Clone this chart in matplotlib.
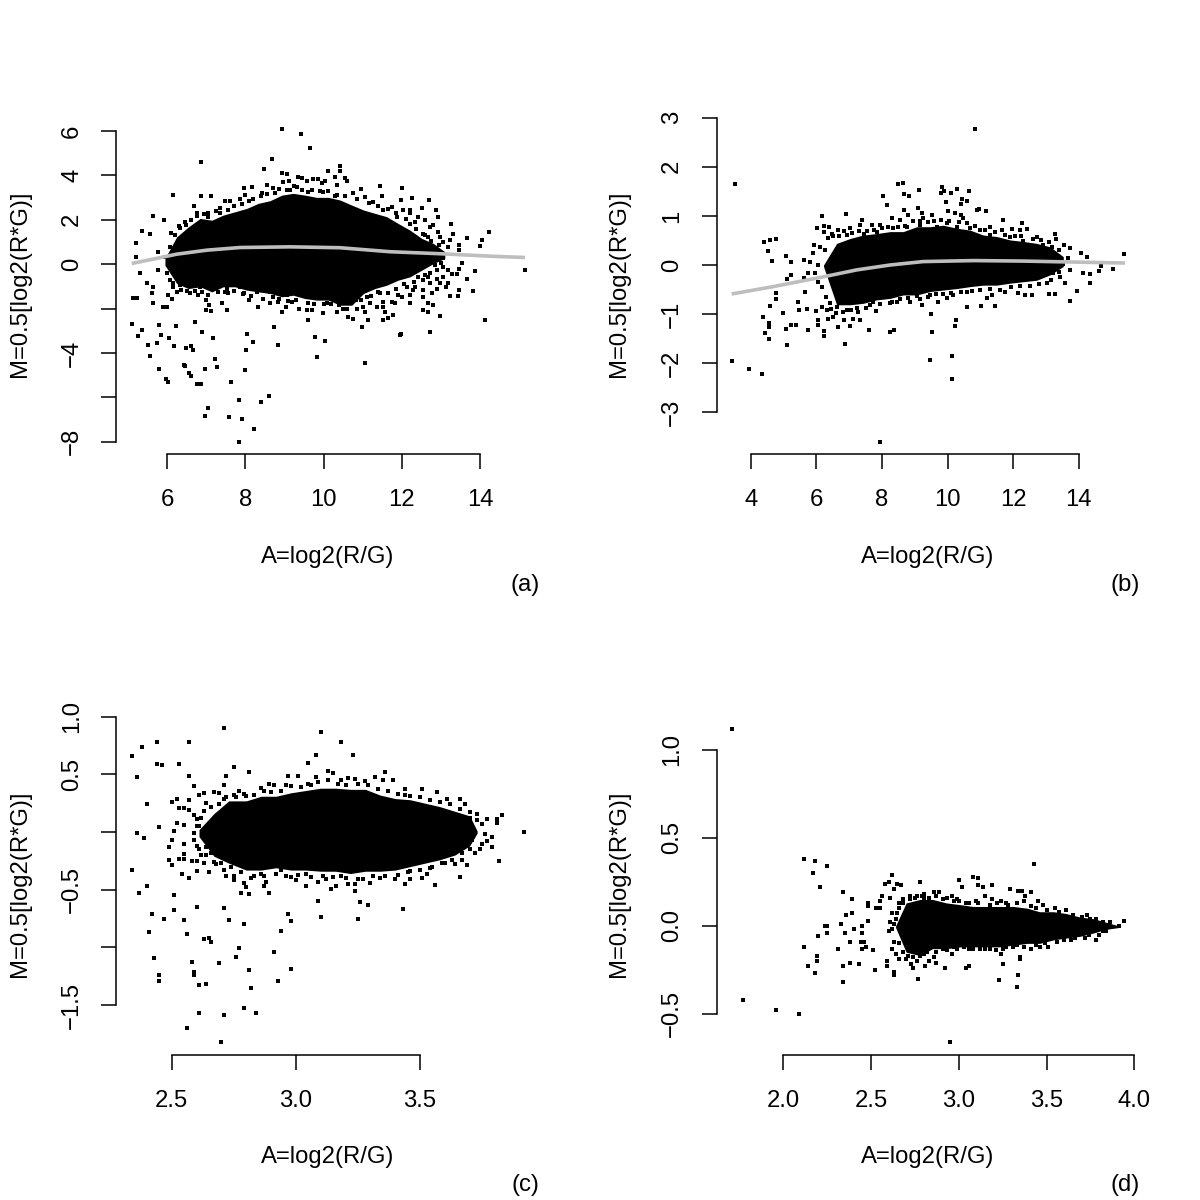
import numpy as np
import matplotlib
matplotlib.use("Agg")
import matplotlib.pyplot as plt

plt.rcParams['font.family'] = ['Liberation Sans', 'DejaVu Sans']

W = 1200
XLAB = "A=log2(R/G)"
YLAB = "M=0.5[log2(R*G)]"
GRAY = "#BEBEBE"
FS = 17.2

# ---------- panel (a) ----------
a_xticks = [6, 8, 10, 12, 14]
a_xlabels = ["6", "8", "10", "12", "14"]
a_yticks = [6, 4, 2, 0, -2, -4, -6, -8]
a_ylabels = ["6", "4", "2", "0", "", "\u22124", "", "\u22128"]
a_core_A = [5.94,6.24,6.54,6.84,7.14,7.43,7.73,8.03,8.33,8.63,8.93,9.22,9.52,9.82,10.12,10.42,10.72,11.02,11.31,11.61,11.91,12.21,12.51,12.81,13.10]
a_core_hi = [.26,1.23,1.68,2.06,1.98,2.21,2.36,2.51,2.74,2.86,3.11,3.19,3.11,3.01,3.01,2.89,2.66,2.44,2.29,2.14,1.83,1.53,1.16,.93,.56]
a_core_lo = [-.05,-.87,-1.10,-1.02,-1.25,-1.02,-1.02,-1.17,-1.25,-1.32,-1.47,-1.40,-1.55,-1.62,-1.62,-1.85,-1.85,-1.32,-1.10,-.95,-.72,-.57,-.27,.03,.26]
a_fit_A = [5.09, 5.73, 6.24, 7.01, 7.86, 9.14, 10.42, 11.70, 12.98, 14.26, 15.15]
a_fit_M = [.03, .26, .45, .63, .75, .78, .74, .56, .47, .36, .30]
a_points = [
(8.94,6.09),(9.41,5.86),(9.64,5.22),(8.67,4.72),(6.87,4.59),(8.47,4.27),(10.42,4.44),(6.14,3.11),(6.85,3.07),(7.13,3.08),
(5.63,2.17),(5.91,1.97),(5.36,1.50),(5.57,1.34),(5.21,.95),(5.21,.33),(5.30,-.41),(5.47,-.87),(5.13,-1.53),(5.23,-1.53),
(5.10,-2.71),(5.34,-2.95),(5.25,-3.25),(5.50,-3.64),(5.73,-3.55),(5.57,-4.15),(5.80,-2.75),(5.85,-3.19),(6.05,-3.34),(6.18,-3.71),
(6.22,-2.78),(6.49,-3.77),(6.60,-3.70),(6.66,-3.85),(6.70,-2.62),(6.89,-3.07),(7.18,-3.34),(5.80,-4.74),(5.97,-5.16),(6.03,-5.31),
(6.44,-4.54),(6.46,-4.60),(6.55,-4.89),(6.60,-5.02),(6.75,-5.41),(6.87,-5.40),(6.96,-4.72),(7.22,-4.29),(7.26,-4.63),(7.64,-5.32),
(8.00,-4.78),(8.02,-3.88),(8.05,-3.14),(8.18,-3.53),(8.72,-2.83),(8.82,-3.64),(9.77,-3.29),(10.03,-3.46),(9.84,-4.17),(11.06,-4.47),
(10.99,-2.81),(11.95,-3.20),(11.98,-3.16),(12.71,-3.05),(14.14,-2.53),(12.98,-2.33),(15.14,-.27),(14.23,1.43),(14.04,1.11),(13.99,.81),
(13.68,1.16),(13.87,-.30),(13.68,-.66),(13.83,-1.22),(7.04,-6.48),(6.96,-6.86),(7.57,-6.90),(7.84,-6.14),(7.91,-6.96),(8.40,-6.23),
(8.60,-5.95),(8.23,-7.43),(7.83,-8.03),
(8.93,4.09),(9.05,4.05),(8.95,3.71),(9.11,3.76),(9.35,3.91),(9.45,3.89),(9.31,3.49),(9.58,3.76),(9.72,3.85),(9.85,3.82),
(9.95,3.67),(10.04,3.76),(10.12,4.18),(10.29,3.94),(10.43,4.21),(10.55,3.86),(10.59,3.76),(10.33,3.56),(8.54,3.56),(7.97,3.43),
(8.16,3.47),(10.96,3.37),(11.44,3.52),(12.00,3.44),(11.50,3.05),(11.97,2.89),(12.26,2.96),(12.70,2.87),(12.87,2.42),(12.51,2.51),
(12.93,2.11),(13.25,1.83),(13.32,1.34),(13.22,1.11),(13.45,.86),(13.45,.63),(13.53,.06),(13.45,-.24),(13.40,-.45),(13.29,-.45),
(13.06,.26),(6.68,2.62),(7.48,2.83),(7.60,2.86),(7.86,2.92),(7.99,3.11),(8.41,3.19),(8.71,3.41),(9.14,3.34),(9.61,3.26),
(9.99,3.26),(10.29,3.07),(10.76,3.19),(11.06,3.04),(11.27,2.81),(11.74,2.59),(12.21,2.44),(12.42,2.14),(12.72,1.68),(12.98,1.23),
(12.87,.63),(12.55,1.38),(12.21,1.83),(11.87,2.14),(11.53,2.44),(7.35,2.51),(7.05,2.14),(6.75,2.17),(6.49,1.76),(6.32,1.61),
(6.20,1.31),(6.07,.78),(5.77,.56),(5.94,.33),(5.77,-.27),
(5.98,-.42),(6.07,-.72),(5.64,-1.02),(5.62,-1.32),(5.64,-1.77),(5.88,-1.92),(6.00,-1.92),(6.03,-1.40),(6.11,-1.55),(6.24,-1.25),
(6.58,-1.32),(6.79,-1.40),(6.99,-1.62),(6.99,-2.08),(7.13,-2.11),(7.07,-1.85),(7.39,-1.74),(7.54,-2.08),(7.48,-1.25),(7.94,-1.35),
(8.09,-1.62),(8.33,-1.92),(8.63,-1.77),(8.84,-1.70),(8.93,-2.15),(9.04,-1.95),(9.18,-1.70),(9.38,-2.00),(9.57,-2.08),(9.69,-2.08),
(9.61,-2.53),(9.99,-2.18),(10.08,-1.77),(10.33,-2.15),(10.38,-1.85),(10.59,-2.00),(10.63,-2.38),(10.76,-2.45),(11.01,-1.92),(11.06,-2.15),
(11.14,-2.50),(11.53,-2.53),(11.64,-2.41),(11.78,-2.30),(11.57,-2.15),(11.82,-1.77),(12.21,-1.77),(12.53,-2.05),(12.68,-2.15),(12.81,-1.85),
(12.68,-1.77),(12.55,-1.17),(13.23,-1.44),(13.43,-1.43),(13.45,-1.17),(13.12,-1.02),(12.89,-1.10),(12.72,-.87),(12.42,-.57),(12.12,-1.02),
(11.91,-1.40),(11.44,-1.32),(11.10,-1.47),(10.84,-1.62),(10.50,-1.55),(10.16,-1.47),(9.82,-1.40),(9.39,-1.32),(9.05,-1.40),(8.63,-1.25),
(8.29,-1.25),(7.86,-1.02),(7.52,-1.10),(7.18,-1.02),(6.84,-1.02),(6.49,-.95),(6.32,-.95),(6.15,-1.02),
(12.21,2.29),(12.04,2.44),(12.34,1.91),(12.59,1.98),(12.81,1.76),(12.93,1.46),(12.68,1.23),(13.06,1.01),(13.19,.78),(13.06,-.12),
(13.19,-.27),(12.89,-.27),(12.72,-.42),(13.06,-.57),(12.89,-.65),(12.55,-.72),(12.68,-.57),(12.34,-1.02),(12.29,-1.17),(12.21,-1.40),
(12.0,-1.47),(11.74,-1.70),(11.53,-1.70),(11.36,-1.92),(11.19,-1.77),(11.53,-1.92),(12.55,-1.47),(12.76,-1.32),(12.98,-.87),(13.19,-.87),
(6.1,1.4),(6.3,1.7),(6.45,1.9),(6.6,2.0),(6.75,2.3),(6.95,2.25),(7.05,2.3),(7.25,2.4),(7.35,2.3),(7.55,2.45),
(7.7,2.6),(7.9,2.7),(8.1,2.85),(8.2,2.95),(8.4,3.05),(8.55,3.15),(8.75,3.2),(8.85,3.4),(9.05,3.35),(9.25,3.5),
(9.45,3.35),(9.7,3.35),(9.9,3.3),(10.1,3.3),(10.35,3.1),(10.55,3.05),(10.85,2.95),(11.15,2.75),(11.4,2.6),(11.65,2.5),
(11.85,2.3),(12.1,2.05),(12.35,1.6),(12.6,1.3),(12.75,1.05),(12.95,.85),
(6.15,-.85),(6.35,-1.15),(6.5,-1.2),(6.7,-1.2),(6.9,-1.25),(7.05,-1.4),(7.3,-1.25),(7.55,-1.3),(7.7,-1.2),(7.95,-1.3),
(8.15,-1.45),(8.45,-1.55),(8.7,-1.5),(8.85,-1.55),(9.1,-1.65),(9.3,-1.6),(9.6,-1.75),(9.75,-1.8),(10.0,-1.8),(10.2,-1.8),
(10.5,-2.0),(10.85,-2.0),(10.95,-1.6),(11.2,-1.45),(11.4,-1.25),(11.65,-1.3),(11.85,-1.1),(12.05,-.9),(12.3,-.8),(12.6,-.5),
(12.85,-.05),(13.0,.05),
]

# ---------- panel (b) ----------
b_xticks = [4, 6, 8, 10, 12, 14]
b_xlabels = ["4", "6", "8", "10", "12", "14"]
b_yticks = [3, 2, 1, 0, -1, -2, -3]
b_ylabels = ["3", "2", "1", "0", "\u22121", "\u22122", "\u22123"]
b_core_A = [6.22,6.62,7.03,7.43,7.84,8.25,8.65,9.06,9.47,9.87,10.28,10.69,11.09,11.50,11.91,12.31,12.72,13.13,13.53]
b_core_hi = [0,.44,.54,.61,.64,.68,.68,.78,.78,.81,.75,.71,.61,.58,.51,.48,.44,.37,.17]
b_core_lo = [-.03,-.81,-.81,-.78,-.71,-.68,-.61,-.61,-.54,-.51,-.48,-.44,-.41,-.41,-.37,-.34,-.31,-.20,-.03]
b_fit_A = [3.42, 4.69, 6.22, 7.23, 8.25, 9.26, 10.79, 12.31, 13.84, 15.41]
b_fit_M = [-.59, -.44, -.24, -.10, 0, .07, .09, .08, .06, .04]
b_points = [
(10.85,2.77),(3.52,1.65),(8.48,1.64),(8.65,1.66),(8.02,1.41),(8.16,1.23),(8.68,1.44),(8.84,1.41),(9.12,1.53),(9.82,1.58),
(9.79,1.47),(9.90,1.51),(10.11,1.47),(10.28,1.55),(10.67,1.51),(9.95,1.29),(10.43,1.34),(10.40,1.24),(10.58,1.31),(10.91,1.13),
(10.97,1.15),(11.18,1.09),(10.00,1.09),(10.23,1.05),(10.40,1.02),(10.48,.95),(8.68,1.11),(9.10,1.17),(6.18,1.00),(6.90,1.03),
(4.40,.47),(4.58,.51),(4.78,.52),(4.54,.29),(4.66,.09),(5.07,.18),(5.24,.07),(15.39,.22),(15.04,-.09),(14.67,-.02),
(14.62,-.12),(14.35,-.37),(13.94,-.53),(13.74,-.73),(14.35,-.18),(14.12,-.17),(14.24,.17),(14.06,.25),(5.12,-.29),(5.24,-.21),
(4.76,-.58),(4.77,-.70),(4.59,-.84),(4.36,-1.05),(4.56,-1.19),(4.57,-1.27),(4.43,-1.38),(4.55,-1.50),(4.99,-.98),(5.08,-1.30),
(5.22,-1.22),(5.39,-1.23),(5.76,-1.32),(5.11,-1.63),(3.44,-1.95),(3.95,-2.12),(4.33,-2.21),(7.95,-3.61),(6.89,-1.60),(6.24,-1.34),
(6.24,-1.44),(6.04,-1.12),(6.04,-1.23),(7.62,-1.32),(8.26,-1.36),(8.38,-1.32),(9.49,-.99),(9.53,-1.36),(10.25,-1.13),(10.24,-1.24),
(9.48,-1.93),(10.15,-1.85),(10.13,-2.33),(10.60,-.85),(11.03,-.84),(11.45,-.84),
(6.01,.75),(6.22,.80),(6.40,.78),(6.22,.67),(5.93,.41),(6.11,.37),(6.27,.31),(5.91,.24),(5.61,.10),(5.81,.07),
(6.06,0),(5.76,-.17),(5.96,-.17),(5.61,-.27),(6.06,-.34),(6.16,-.44),(5.66,-.54),(5.45,-.75),(5.73,-.90),(5.47,-.92),
(5.99,-.94),(6.16,-.85),(6.32,-.92),(6.37,-1.09),(6.52,-1.05),(6.67,-1.26),(6.83,-1.12),(7.03,-1.24),(7.33,-1.13),(7.13,-1.09),
(7.28,-.95),(6.93,-.92),(6.62,-.85),(6.42,-.78),(7.81,-.93),(7.74,-.75),(8.25,-.77),(8.47,-.75),(8.86,-.76),(9.21,-.81),
(9.72,-.75),(9.06,-.64),(9.47,-.61),(9.98,-.68),(10.18,-.61),(10.59,-.54),(11.20,-.68),(11.35,-.61),(11.75,-.56),(12.16,-.58),
(12.36,-.61),(12.57,-.62),(13.08,-.60),(13.28,-.60),(13.02,-.37),(13.58,-.37),(13.43,-.24),(13.23,-.17),(13.74,-.10),(13.53,.03),
(13.68,.14),(13.55,.41),(13.74,.34),(13.28,.63),(13.31,.52),(13.18,.37),(12.72,.58),(12.41,.73),(12.26,.86),(11.96,.73),
(12.21,.71),(11.70,.92),(11.65,.71),(11.30,.77),(10.99,.71),(10.69,.75),(10.28,.78),(9.98,.85),(9.52,1.02),(9.26,.95),
(9.21,1.05),(8.81,1.02),(8.55,.92),(8.30,.95),(7.94,.81),(7.69,.81),(7.38,.92),(7.33,.81),(7.03,.75),(6.67,.71),
(6.47,.64),(6.93,.61),(7.44,.64),(7.84,.68),(8.35,.75),(8.76,.78),(9.16,.81),(9.67,.78),(10.48,.68),(11.30,.61),
(11.91,.58),(12.31,.48),(12.92,.41),
(6.35,.55),(6.5,.6),(6.7,.6),(6.85,.7),(7.1,.65),(7.3,.7),(7.55,.7),(7.75,.72),(8.0,.75),(8.2,.78),
(8.5,.78),(8.7,.8),(8.95,.9),(9.15,.9),(9.4,.88),(9.6,.9),(9.8,.92),(10.05,.9),(10.35,.88),(10.6,.85),
(10.85,.8),(11.15,.72),(11.45,.68),(11.75,.62),(12.05,.6),(12.25,.6),(12.6,.52),(12.85,.5),(13.1,.47),(13.4,.3),
(6.3,-.65),(6.45,-.9),(6.6,-.98),(6.8,-.95),(7.05,-.92),(7.25,-.88),(7.5,-.88),(7.65,-.82),(7.95,-.8),(8.3,-.75),
(8.55,-.7),(8.8,-.68),(9.15,-.7),(9.4,-.65),(9.65,-.6),(9.85,-.6),(10.1,-.58),(10.4,-.55),(10.75,-.52),(11.0,-.5),
(11.3,-.48),(11.6,-.5),(11.95,-.45),(12.2,-.42),(12.5,-.42),(12.8,-.38),(13.15,-.3),(13.4,-.15),
]

# ---------- panel (c) ----------
c_xticks = [2.5, 3.0, 3.5]
c_xlabels = ["2.5", "3.0", "3.5"]
c_yticks = [1.0, .5, 0, -.5, -1.0, -1.5]
c_ylabels = ["1.0", "0.5", "", "\u22120.5", "", "\u22121.5"]
c_core_A = [2.61,2.67,2.73,2.80,2.86,2.92,2.98,3.04,3.10,3.16,3.22,3.28,3.34,3.40,3.46,3.52,3.58,3.64,3.70,3.73]
c_core_hi = [.02,.16,.27,.27,.31,.31,.34,.36,.38,.38,.37,.37,.32,.29,.28,.25,.22,.18,.14,.01]
c_core_lo = [-.04,-.21,-.27,-.33,-.33,-.31,-.33,-.33,-.34,-.34,-.36,-.34,-.34,-.33,-.30,-.27,-.24,-.20,-.12,-.01]
c_points = [
(2.71,.90),(3.10,.87),(2.34,.66),(2.38,.74),(2.44,.78),(2.57,.78),(3.18,.78),(3.08,.67),(3.23,.67),(3.05,.60),
(2.44,.59),(2.46,.58),(2.53,.59),(2.75,.56),(2.81,.52),(2.36,.48),(2.57,.49),(2.72,.49),(2.59,.40),(2.71,.41),
(2.40,.24),(2.45,.04),(2.36,-.01),(2.39,-.05),(2.34,-.33),(2.37,-.53),(2.40,-.47),(2.51,-.55),(2.42,-.71),(2.51,-.68),
(2.47,-.75),(2.55,-.76),(2.60,-.65),(2.71,-.66),(2.73,-.76),(2.79,-.80),(2.41,-.87),(2.56,-.88),(2.63,-.93),(2.65,-.92),
(2.66,-.95),(2.77,-1.01),(2.76,-1.08),(2.91,-1.04),(2.94,-.86),(2.97,-.71),(2.98,-.77),(3.09,-.60),(3.10,-.74),(3.26,-.61),
(3.29,-.63),(3.25,-.75),(3.43,-.67),(3.56,-.46),(3.66,-.39),(3.82,-.25),(3.92,0),(3.83,.15),(3.81,.11),(3.81,.08),
(3.77,.11),(3.79,-.04),(3.79,-.13),(3.77,-.08),(2.43,-1.09),(2.45,-1.24),(2.45,-1.29),(2.58,-1.13),(2.59,-1.21),(2.59,-1.24),
(2.61,-1.33),(2.64,-1.32),(2.69,-1.14),(2.81,-1.20),(2.82,-1.35),(2.93,-1.29),(2.98,-1.19),(2.61,-1.57),(2.71,-1.59),(2.79,-1.53),
(2.84,-1.57),(2.56,-1.70),(2.70,-1.82),
(2.50,.26),(2.52,.29),(2.53,.21),(2.55,.21),(2.57,.28),(2.57,.19),(2.59,.15),(2.60,.11),(2.61,.32),(2.63,.34),
(2.67,.35),(2.69,.34),(2.64,.25),(2.71,.29),(2.75,.32),(2.52,.08),(2.55,.06),(2.51,.01),(2.59,-.01),(2.61,.05),
(2.50,-.07),(2.49,-.13),(2.55,-.10),(2.59,-.07),(2.61,-.15),(2.53,-.23),(2.49,-.24),(2.50,-.29),(2.55,-.19),(2.55,-.23),
(2.58,-.25),(2.60,-.25),(2.63,-.27),(2.64,-.20),(2.54,-.36),(2.57,-.40),(2.60,-.34),(2.65,-.35),(2.68,-.28),(2.71,-.33),
(2.75,-.38),(2.72,-.38),(2.75,-.42),(2.79,-.44),(2.80,-.48),(2.78,-.53),(2.81,-.54),(2.82,-.40),(2.87,-.47),(2.89,-.53),
(2.86,-.36),(2.88,-.43),(2.94,-.33),(2.98,-.39),(3.00,-.42),(3.04,-.47),(3.04,-.36),(3.09,-.43),(3.12,-.41),(3.14,-.49),
(3.16,-.47),(3.18,-.38),(3.21,-.45),(3.24,-.51),(3.24,-.45),(3.27,-.41),(3.30,-.44),(3.34,-.40),(3.40,-.41),(3.44,-.45),
(3.46,-.41),(3.51,-.40),(3.46,-.34),(3.53,-.36),(3.55,-.30),(3.60,-.27),(3.64,-.28),(3.67,-.24),(3.69,-.29),(3.72,-.18),
(3.74,-.15),(3.75,-.10),(3.71,-.07),(3.76,-.02),(3.75,.07),(3.73,.16),(3.68,.24),(3.70,.12),(3.66,.29),(3.61,.29),
(3.57,.35),(3.54,.22),(3.51,.37),(3.46,.31),(3.44,.37),(3.39,.45),(3.36,.52),(3.35,.45),(3.32,.48),(3.28,.44),
(3.24,.46),(3.21,.47),(3.18,.45),(3.15,.51),(3.13,.53),(3.08,.48),(3.06,.41),(3.01,.49),(2.97,.49),(2.96,.41),
(2.91,.41),(2.89,.42),(2.86,.38),(2.80,.31),(2.77,.36),
(2.63,.18),(2.66,.22),(2.69,.24),(2.72,.3),(2.76,.3),(2.79,.33),(2.83,.32),(2.87,.36),(2.9,.35),(2.94,.36),
(2.98,.4),(3.02,.39),(3.05,.42),(3.09,.43),(3.13,.45),(3.17,.42),(3.2,.41),(3.25,.42),(3.29,.41),(3.33,.37),
(3.37,.36),(3.41,.33),(3.44,.32),(3.5,.3),(3.54,.28),(3.58,.26),(3.62,.24),(3.66,.2),(3.7,.17),(3.73,.1),
(2.62,.12),(2.6,.05),(2.63,-.03),(2.6,-.12),(2.64,-.13),(2.66,-.18),(2.62,-.2),(2.67,.08),(2.65,.0),
(2.67,-.26),(2.7,-.27),(2.74,-.3),(2.78,-.35),(2.83,-.38),(2.87,-.38),(2.92,-.36),(2.96,-.38),(3.01,-.37),(3.06,-.39),
(3.11,-.38),(3.15,-.39),(3.2,-.4),(3.25,-.41),(3.31,-.38),(3.36,-.38),(3.41,-.37),(3.45,-.35),(3.5,-.33),(3.54,-.31),
(3.59,-.27),(3.63,-.24),(3.67,-.18),(3.7,-.15),
]

# ---------- panel (d) ----------
d_xticks = [2.0, 2.5, 3.0, 3.5, 4.0]
d_xlabels = ["2.0", "2.5", "3.0", "3.5", "4.0"]
d_yticks = [1.0, .5, 0, -.5]
d_ylabels = ["1.0", "0.5", "0.0", "\u22120.5"]
d_core_A = [2.64,2.70,2.78,2.85,2.93,3.01,3.08,3.16,3.23,3.31,3.39,3.46,3.54,3.61,3.69,3.77,3.84,3.91]
d_core_hi = [0,.13,.15,.15,.13,.12,.11,.11,.11,.11,.10,.08,.08,.07,.05,.04,.02,0]
d_core_lo = [-.01,-.15,-.17,-.13,-.13,-.12,-.12,-.12,-.12,-.11,-.10,-.10,-.08,-.07,-.06,-.04,-.02,-.01]
d_points = [
(1.71,1.12),(2.12,.38),(2.18,.37),(2.25,.34),(2.17,.30),(2.21,.22),(2.34,.19),(2.39,.15),(3.43,.35),(2.62,.29),
(2.58,.24),(2.60,.25),(2.63,.21),(2.65,.24),(2.67,.23),(2.78,.25),(3.00,.26),(3.02,.22),(3.08,.28),(3.11,.27),
(3.11,.23),(3.14,.22),(3.19,.23),(3.29,.21),(3.34,.20),(3.36,.20),(3.41,.19),(2.48,.13),(2.48,.11),(2.55,.14),
(2.56,.17),(2.61,.16),(2.36,.06),(2.39,.07),(2.53,.10),(2.55,.10),(2.33,.01),(2.24,0),(2.25,0),(2.25,-.04),
(2.40,-.02),(2.45,0),(2.48,.03),(2.20,-.06),(2.35,-.04),(2.45,-.04),(2.12,-.12),(2.31,-.13),(2.38,-.09),(2.44,-.09),
(2.46,-.09),(2.47,-.12),(2.45,-.13),(2.51,-.14),(2.19,-.17),(2.19,-.20),(2.14,-.23),(2.18,-.27),(2.34,-.23),(2.38,-.21),
(2.43,-.22),(2.34,-.32),(2.52,-.25),(2.59,-.20),(2.59,-.23),(2.63,-.26),(2.63,-.28),(2.77,-.30),(2.73,-.22),(2.74,-.24),
(2.81,-.23),(2.87,-.21),(2.92,-.24),(3.04,-.24),(3.06,-.23),(3.24,-.16),(3.25,-.22),(3.23,-.31),(3.34,-.28),(3.33,-.35),
(3.35,-.18),(3.35,-.19),(1.77,-.42),(1.96,-.48),(2.09,-.50),(2.95,-.66),(3.94,.03),
(2.66,.13),(2.65,.07),(2.63,.01),(2.62,-.02),(2.63,-.09),(2.62,-.13),(2.64,-.16),(2.66,-.19),(2.70,-.19),(2.76,-.20),
(2.80,-.16),(2.83,-.20),(2.86,-.18),(2.68,.15),(2.72,.17),(2.76,.17),(2.80,.18),(2.86,.19),(2.89,.19),(2.93,.16),
(2.96,.17),(2.99,.15),(3.04,.13),(3.10,.14),(3.15,.17),(3.19,.15),(3.24,.14),(3.28,.12),(3.37,.14),(3.38,.17),
(3.45,.14),(3.48,.12),(3.55,.10),(3.61,.09),(3.73,.06),(3.78,.04),(3.82,.02),(3.91,0),(3.84,-.03),(3.80,-.05),
(3.78,-.08),(3.72,-.07),(3.64,-.08),(3.60,-.08),(3.51,-.12),(3.46,-.12),(3.41,-.13),(3.33,-.11),(3.27,-.12),(3.21,-.14),
(3.15,-.13),(3.08,-.13),(3.03,-.12),(2.97,-.12),(2.96,-.16),(2.91,-.13),(2.80,.16),
(2.66,.1),(2.68,.13),(2.72,.15),(2.75,.16),(2.79,.17),(2.83,.16),(2.87,.17),(2.91,.15),(2.97,.14),(3.0,.14),
(3.06,.13),(3.11,.13),(3.18,.12),(3.22,.13),(3.27,.13),(3.33,.13),(3.41,.11),(3.44,.1),(3.5,.09),(3.57,.08),
(3.65,.06),(3.7,.05),(3.75,.04),(3.86,.02),
(2.66,-.1),(2.68,-.15),(2.71,-.17),(2.74,-.18),(2.78,-.17),(2.82,-.15),(2.87,-.15),(2.93,-.14),(2.99,-.13),(3.06,-.13),
(3.12,-.13),(3.18,-.13),(3.25,-.13),(3.31,-.12),(3.37,-.12),(3.44,-.11),(3.49,-.1),(3.56,-.09),(3.66,-.07),(3.74,-.05),
(3.82,-.03),(2.61,.02),(2.6,-.03),(2.64,.04),(2.62,.07),
]

fig = plt.figure(figsize=(12, 12), dpi=100, facecolor="white")


def panel(left_px, bottom_px, right_px, top_px, xcal, ycal, xt, xl, yt, yl,
          core, pts, fit, xlab_px, ylab_px, tag, tag_px):
    ax = fig.add_axes([left_px / W, 1 - bottom_px / W,
                       (right_px - left_px) / W, (bottom_px - top_px) / W])
    v1, p1, v2, p2 = xcal
    ax.set_xlim(v1 + (left_px - p1) * (v2 - v1) / (p2 - p1),
                v1 + (right_px - p1) * (v2 - v1) / (p2 - p1))
    v1, p1, v2, p2 = ycal
    ax.set_ylim(v1 + (bottom_px - p1) * (v2 - v1) / (p2 - p1),
                v1 + (top_px - p1) * (v2 - v1) / (p2 - p1))
    ax.patch.set_alpha(0)
    ax.fill_between(core[0], core[1], core[2], color="black", lw=0, zorder=2)
    p = np.array(pts)
    ax.scatter(p[:, 0], p[:, 1], s=5.5, marker="s", c="black", linewidths=0,
               clip_on=False, zorder=3)
    if fit is not None:
        ax.plot(fit[0], fit[1], color=GRAY, lw=2.6, solid_capstyle="butt",
                clip_on=False, zorder=4)
    for s in ("top", "right"):
        ax.spines[s].set_visible(False)
    ax.spines["left"].set_bounds(min(yt), max(yt))
    ax.spines["bottom"].set_bounds(min(xt), max(xt))
    for s in ("left", "bottom"):
        ax.spines[s].set_linewidth(1.1)
    ax.set_xticks(xt, xl)
    ax.set_yticks(yt, yl)
    ax.tick_params(axis="x", length=10.5, width=1.1, labelsize=FS, pad=14.5)
    ax.tick_params(axis="y", length=10.5, width=1.1, labelsize=FS, pad=13.5)
    for t in ax.get_yticklabels():
        t.set_rotation(90)
        t.set_va("center")
    fig.text(xlab_px[0] / W, 1 - xlab_px[1] / W, XLAB, ha="center", va="center", fontsize=FS)
    fig.text(ylab_px[0] / W, 1 - ylab_px[1] / W, YLAB, ha="center", va="center",
             rotation=90, fontsize=FS)
    fig.text(tag_px[0] / W, 1 - tag_px[1] / W, tag, ha="center", va="center", fontsize=FS)
    return ax


panel(116.5, 454, 540, 118, (6, 167.3, 14, 480), (6, 131, -8, 441.7),
      a_xticks, a_xlabels, a_yticks, a_ylabels, (a_core_A, a_core_hi, a_core_lo),
      a_points, (a_fit_A, a_fit_M), (328, 556.5), (20, 284), "(a)", (525.5, 585))
panel(716.5, 454, 1140, 110, (4, 750.7, 14, 1078.7), (3, 117.7, -3, 412.3),
      b_xticks, b_xlabels, b_yticks, b_ylabels, (b_core_A, b_core_hi, b_core_lo),
      b_points, (b_fit_A, b_fit_M), (928, 556.5), (619, 284), "(b)", (1125.5, 585))
panel(116.5, 1055, 540, 710, (2.5, 171.7, 3.5, 420), (1.0, 716.7, -1.5, 1005),
      c_xticks, c_xlabels, c_yticks, c_ylabels, (c_core_A, c_core_hi, c_core_lo),
      c_points, None, (328, 1156.5), (20, 884), "(c)", (525.5, 1184.5))
panel(716.5, 1055, 1140, 720, (2.0, 783.3, 4.0, 1134.3), (1.0, 750, -.5, 1013.7),
      d_xticks, d_xlabels, d_yticks, d_ylabels, (d_core_A, d_core_hi, d_core_lo),
      d_points, None, (928, 1156.5), (619, 884), "(d)", (1125.5, 1184.5))

fig.savefig("out.png", dpi=100, facecolor="white")
